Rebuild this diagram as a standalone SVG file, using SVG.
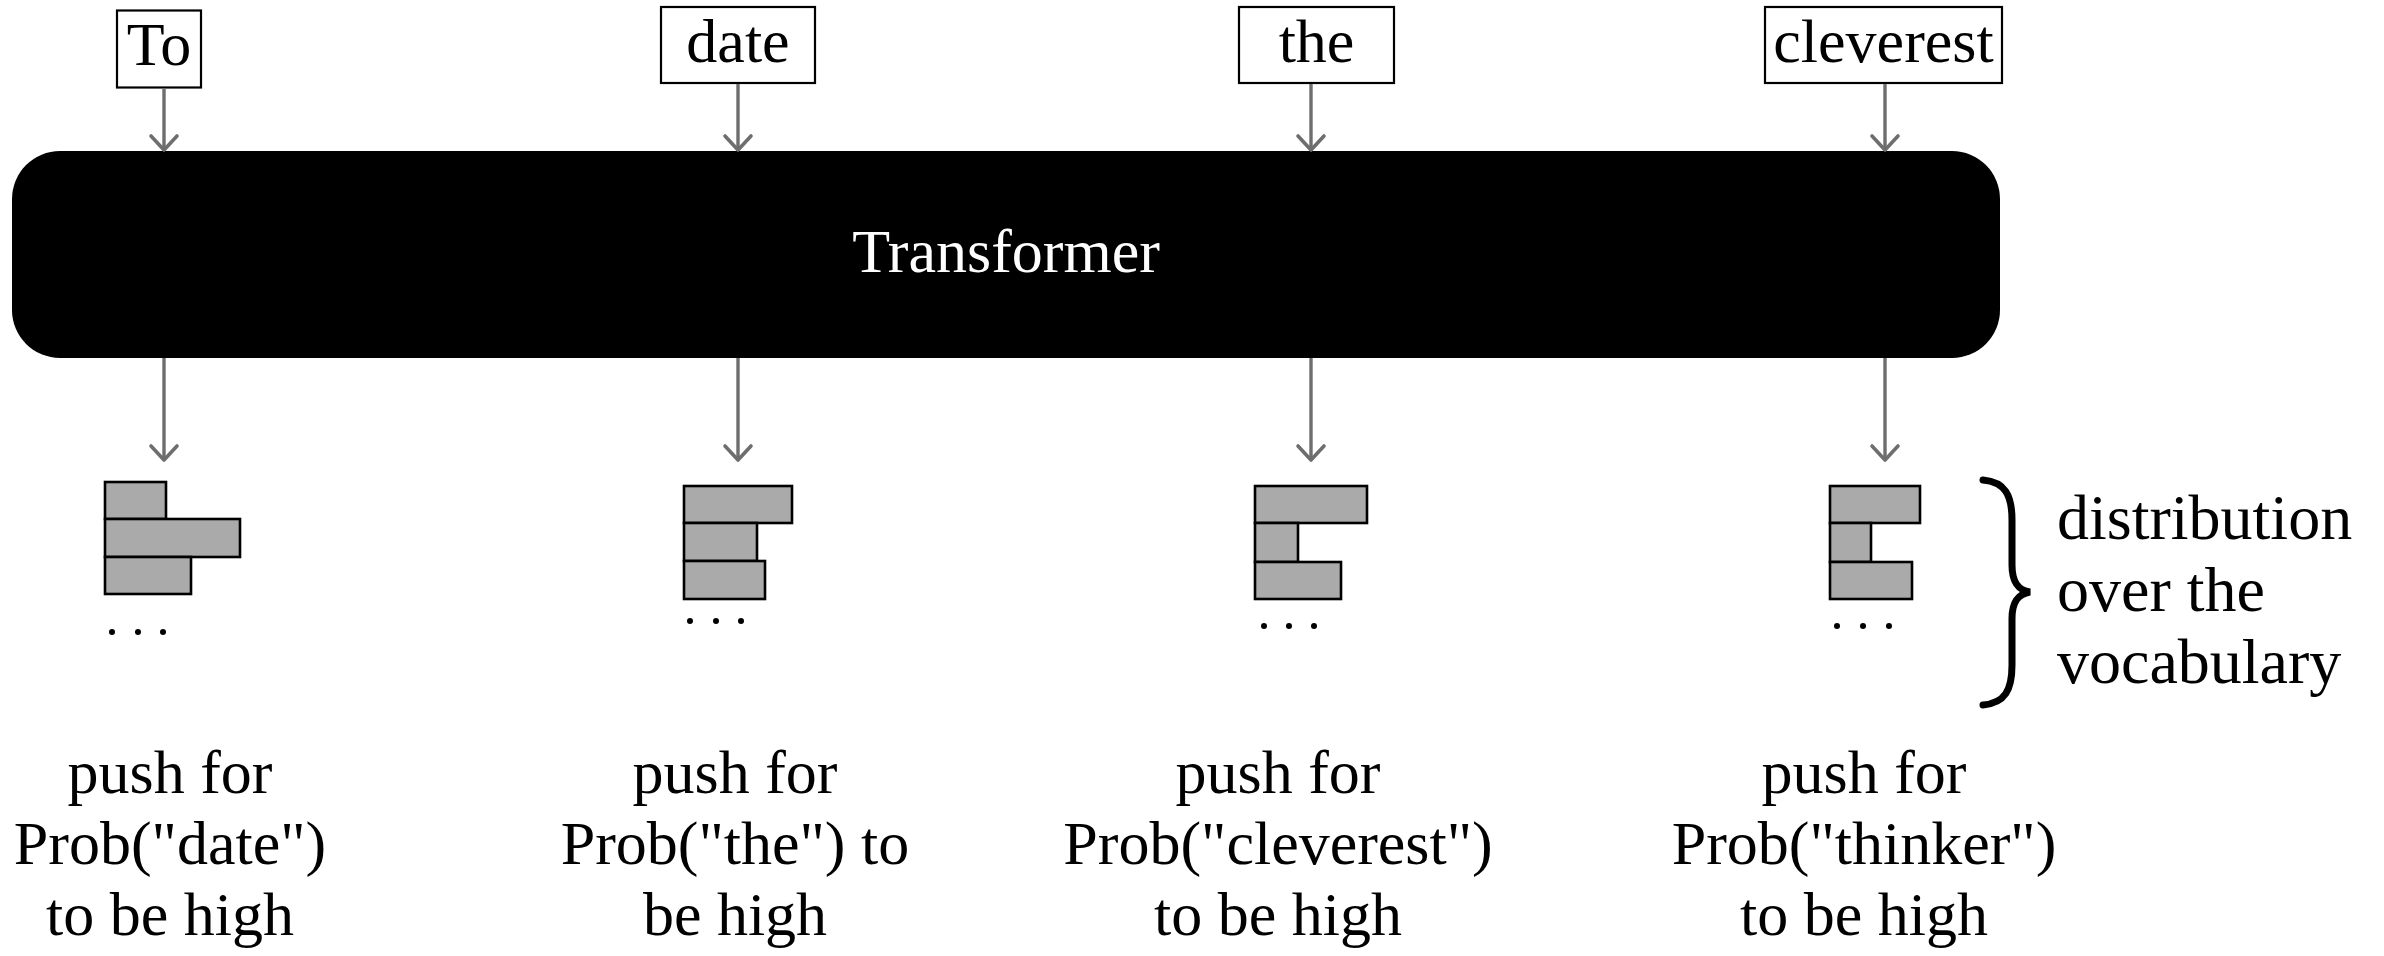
<svg xmlns="http://www.w3.org/2000/svg" width="2384" height="956" viewBox="0 0 2384 956">
<style>
  text { font-family: "Liberation Serif", "Times New Roman", serif; font-size: 62px; fill: #000; }
  .mid { text-anchor: middle; }
  .big { font-size: 64px; }
  .tok { fill: #fff; stroke: #000; stroke-width: 2.2; }
  .bar { fill: #aaaaaa; stroke: #000; stroke-width: 2.6; }
  .conn { stroke: #6e6e6e; stroke-width: 3.4; fill: none; marker-end: url(#arr); }
  .dot { fill: #000; }
</style>
<defs>
  <marker id="arr" markerUnits="userSpaceOnUse" markerWidth="40" markerHeight="40" viewBox="-20 -20 40 40" refX="0" refY="0" orient="auto">
    <path d="M-14,-13 L0,0 L-14,13" fill="none" stroke="#6e6e6e" stroke-width="3.6" stroke-linecap="round" stroke-linejoin="round"/>
  </marker>
</defs>

<g id="tok-to">
  <rect class="tok" x="117" y="10.5" width="84" height="77"/>
  <text class="mid" x="159" y="65">To</text>
</g>
<g id="tok-date">
  <rect class="tok" x="661" y="7" width="154" height="76"/>
  <text class="mid" x="738" y="62">date</text>
</g>
<g id="tok-the">
  <rect class="tok" x="1239" y="7" width="155" height="76"/>
  <text class="mid" x="1316.5" y="62">the</text>
</g>
<g id="tok-cleverest">
  <rect class="tok" x="1765" y="7" width="237" height="76"/>
  <text class="mid" x="1883.5" y="62">cleverest</text>
</g>

<g id="transformer">
  <rect x="12" y="151" width="1988" height="207" rx="48" ry="48" fill="#000"/>
  <text class="mid" x="1006" y="272" style="fill:#fff">Transformer</text>
</g>

<g id="connectors">
  <line class="conn" x1="164" y1="88" x2="164" y2="150"/>
  <line class="conn" x1="738" y1="84" x2="738" y2="150"/>
  <line class="conn" x1="1311" y1="84" x2="1311" y2="150"/>
  <line class="conn" x1="1885" y1="84" x2="1885" y2="150"/>
  <line class="conn" x1="164" y1="358" x2="164" y2="460"/>
  <line class="conn" x1="738" y1="358" x2="738" y2="460"/>
  <line class="conn" x1="1311" y1="358" x2="1311" y2="460"/>
  <line class="conn" x1="1885" y1="358" x2="1885" y2="460"/>
</g>

<g id="dist-1">
  <rect class="bar" x="105" y="482" width="61" height="37"/>
  <rect class="bar" x="105" y="519" width="135" height="38"/>
  <rect class="bar" x="105" y="557" width="86" height="37"/>
  <circle class="dot" cx="112" cy="632" r="3"/>
  <circle class="dot" cx="138" cy="632" r="3"/>
  <circle class="dot" cx="163" cy="632" r="3"/>
</g>
<g id="dist-2">
  <rect class="bar" x="684" y="486" width="108" height="37"/>
  <rect class="bar" x="684" y="523" width="73" height="38"/>
  <rect class="bar" x="684" y="561" width="81" height="38"/>
  <circle class="dot" cx="690" cy="621" r="3"/>
  <circle class="dot" cx="716" cy="621" r="3"/>
  <circle class="dot" cx="741" cy="621" r="3"/>
</g>
<g id="dist-3">
  <rect class="bar" x="1255" y="486" width="112" height="37"/>
  <rect class="bar" x="1255" y="523" width="43" height="39"/>
  <rect class="bar" x="1255" y="562" width="86" height="37"/>
  <circle class="dot" cx="1264" cy="626" r="3"/>
  <circle class="dot" cx="1289" cy="626" r="3"/>
  <circle class="dot" cx="1314" cy="626" r="3"/>
</g>
<g id="dist-4">
  <rect class="bar" x="1830" y="486" width="90" height="37"/>
  <rect class="bar" x="1830" y="523" width="41" height="39"/>
  <rect class="bar" x="1830" y="562" width="82" height="37"/>
  <circle class="dot" cx="1837" cy="626" r="3"/>
  <circle class="dot" cx="1863" cy="626" r="3"/>
  <circle class="dot" cx="1889" cy="626" r="3"/>
</g>

<g id="brace-label">
  <path d="M1983,480 C2005,482 2012,495 2012,520 L2012,565 C2012,582 2018,590 2030,592 C2018,594 2012,602 2012,619 L2012,665 C2012,690 2005,703 1983,705" fill="none" stroke="#000" stroke-width="7" stroke-linecap="round"/>
  <text class="big" x="2057" y="539">distribution</text>
  <text class="big" x="2057" y="611">over the</text>
  <text class="big" x="2057" y="683">vocabulary</text>
</g>

<g id="label-1">
  <text class="mid" x="170" y="793">push for</text>
  <text class="mid" x="170" y="864">Prob("date")</text>
  <text class="mid" x="170" y="935">to be high</text>
</g>
<g id="label-2">
  <text class="mid" x="735" y="793">push for</text>
  <text class="mid" x="735" y="864">Prob("the") to</text>
  <text class="mid" x="735" y="935">be high</text>
</g>
<g id="label-3">
  <text class="mid" x="1278" y="793">push for</text>
  <text class="mid" x="1278" y="864">Prob("cleverest")</text>
  <text class="mid" x="1278" y="935">to be high</text>
</g>
<g id="label-4">
  <text class="mid" x="1864" y="793">push for</text>
  <text class="mid" x="1864" y="864">Prob("thinker")</text>
  <text class="mid" x="1864" y="935">to be high</text>
</g>
</svg>
